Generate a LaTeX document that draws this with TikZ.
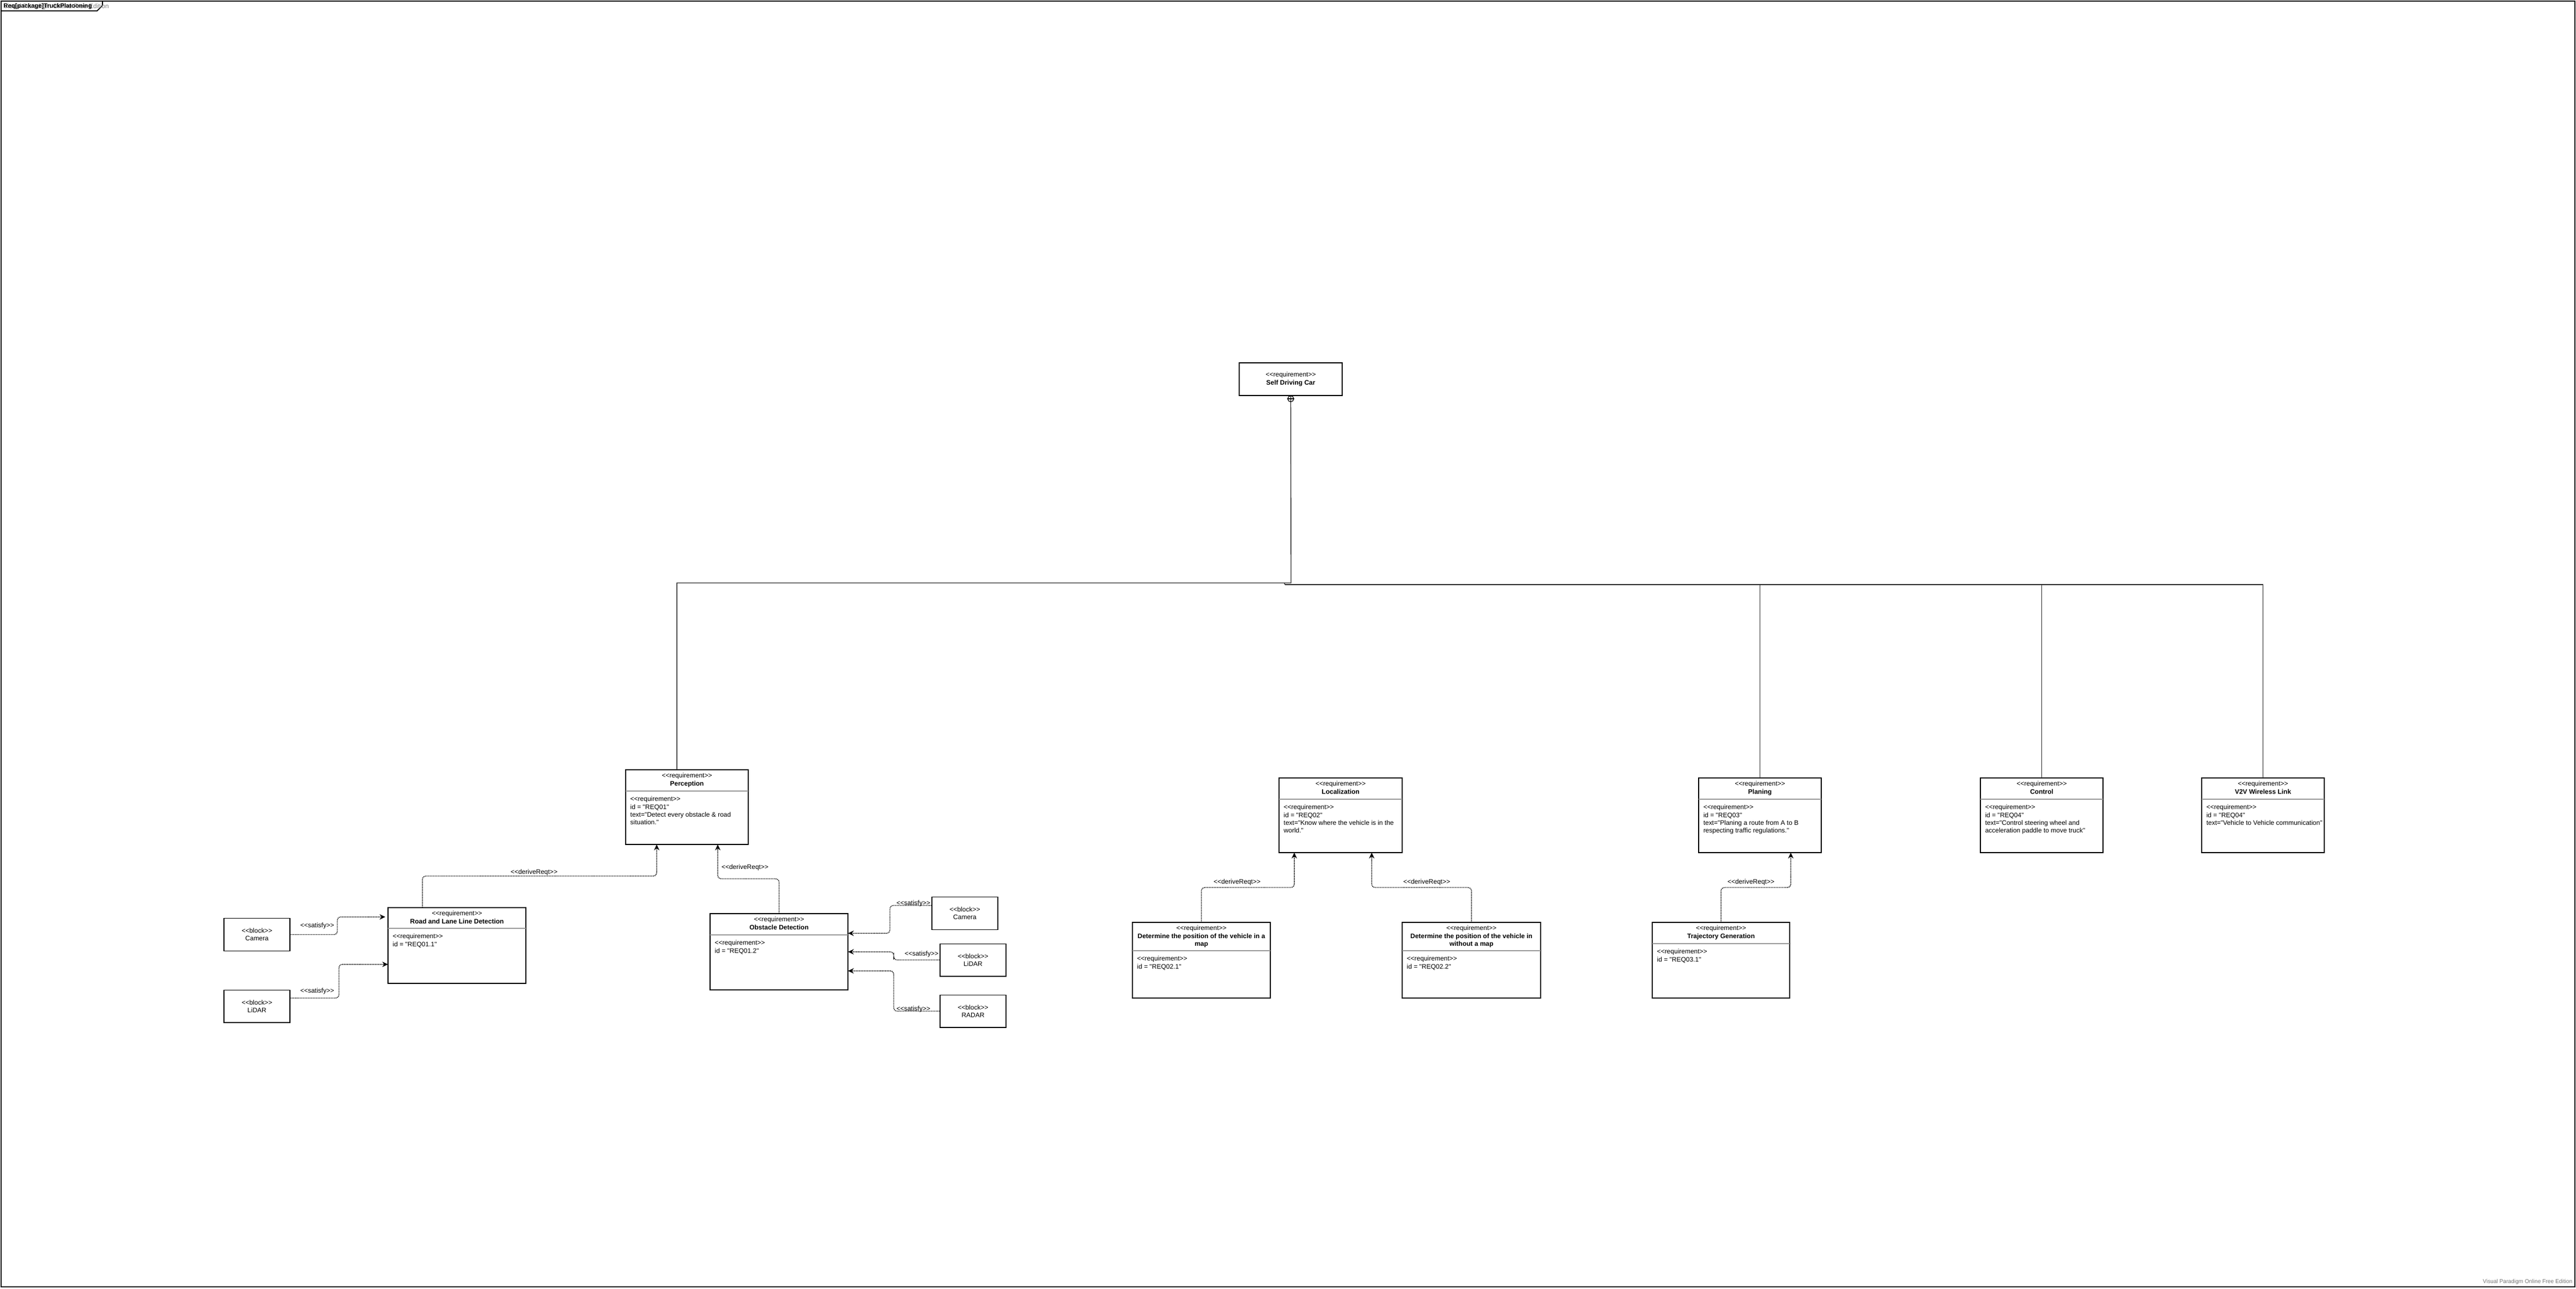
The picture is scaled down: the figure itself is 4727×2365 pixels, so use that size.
\documentclass[tikz,border=0pt]{standalone}
\usepackage{fontspec}
\setmainfont{Liberation Sans}[Ligatures=TeXOff]
\usetikzlibrary{arrows.meta}
\newcommand{\reqfont}{\fontsize{3.41}{4.05}\selectfont}
\tikzset{>={Stealth[length=3pt,width=2.8pt]},
  req/.style={draw, line width=0.4pt, minimum width=2.25cm, minimum height=1.37cm, inner sep=0pt, outer sep=0pt, anchor=north west},
  reqhead/.style={anchor=north, align=center, inner xsep=0pt, inner ysep=0.055cm, font=\reqfont},
  reqbody/.style={anchor=north west, align=left, inner xsep=0.08cm, inner ysep=0.095cm, font=\reqfont},
  divline/.style={draw=black!40, line width=0.35pt},
  blk/.style={draw, line width=0.4pt, minimum width=1.21cm, minimum height=0.595cm, inner sep=0pt, outer sep=0pt, align=center, font=\reqfont},
  rel/.style={->, line width=0.4pt, dash pattern=on 0.5pt off 0.35pt, rounded corners=1.8pt},
  lbl/.style={font=\reqfont, inner sep=0pt},
  tree/.style={line width=0.4pt, black!85}
}
\begin{document}
\begin{tikzpicture}[x=0.01cm, y=-0.01cm]
\useasboundingbox (0,0) rectangle (4727,2365);
% frame and tab
\draw[line width=0.7pt] (2,2) rectangle (4725,2362);
\draw[line width=0.5pt] (2,20) -- (178,20) -- (188,10) -- (188,2);
\node[anchor=west, inner sep=0pt, text=black!50, font=\fontsize{3.41}{4}\selectfont] (tabwm) at (6,12) {Visual Paradigm Online Free Edition};
\node[anchor=west, inner sep=0pt, font=\fontsize{3.2}{4}\selectfont\bfseries] (tabname) at (6,12) {Req[package]TruckPlatooning};
\node[anchor=base east, inner sep=0pt, text=black!55, font=\fontsize{2.9}{3.4}\selectfont] (wm) at (4721,2355) {Visual Paradigm Online Free Edition};

% root requirement
\node[req, minimum width=1.89cm, minimum height=0.6cm, align=center, font=\reqfont] (sdc) at (2274,666) {<<requirement>>\\\textbf{Self Driving Car}};
\node[draw, circle, minimum size=0.11cm, inner sep=0pt, line width=0.35pt] (own) at (2368.5,732) {};
\draw[line width=0.35pt] (own.north) -- (own.south) (own.west) -- (own.east);

% top level requirements
\node[req] (perc) at (1148,1413) {};
\node[reqhead] (percH) at (perc.north) {<<requirement>>\\\textbf{Perception}};
\draw[divline] ([yshift=-0.39cm]perc.north west) -- ([yshift=-0.39cm]perc.north east);
\node[reqbody] (percB) at ([yshift=-0.39cm]perc.north west) {<<requirement>>\\id = "REQ01"\\text="Detect every obstacle \& road\\situation."};

\node[req, minimum width=2.26cm] (loc) at (2347,1428) {};
\node[reqhead] (locH) at (loc.north) {<<requirement>>\\\textbf{Localization}};
\draw[divline] ([yshift=-0.39cm]loc.north west) -- ([yshift=-0.39cm]loc.north east);
\node[reqbody] (locB) at ([yshift=-0.39cm]loc.north west) {<<requirement>>\\id = "REQ02"\\text="Know where the vehicle is in the\\world."};

\node[req] (plan) at (3117,1428) {};
\node[reqhead] (planH) at (plan.north) {<<requirement>>\\\textbf{Planing}};
\draw[divline] ([yshift=-0.39cm]plan.north west) -- ([yshift=-0.39cm]plan.north east);
\node[reqbody] (planB) at ([yshift=-0.39cm]plan.north west) {<<requirement>>\\id = "REQ03"\\text="Planing a route from A to B\\respecting traffic regulations."};

\node[req] (ctrl) at (3634,1428) {};
\node[reqhead] (ctrlH) at (ctrl.north) {<<requirement>>\\\textbf{Control}};
\draw[divline] ([yshift=-0.39cm]ctrl.north west) -- ([yshift=-0.39cm]ctrl.north east);
\node[reqbody] (ctrlB) at ([yshift=-0.39cm]ctrl.north west) {<<requirement>>\\id = "REQ04"\\text="Control steering wheel and\\acceleration paddle to move truck"};

\node[req] (v2v) at (4040,1428) {};
\node[reqhead] (v2vH) at (v2v.north) {<<requirement>>\\\textbf{V2V Wireless Link}};
\draw[divline] ([yshift=-0.39cm]v2v.north west) -- ([yshift=-0.39cm]v2v.north east);
\node[reqbody] (v2vB) at ([yshift=-0.39cm]v2v.north west) {<<requirement>>\\id = "REQ04"\\text="Vehicle to Vehicle communication"};

% derived requirements
\node[req, minimum width=2.53cm, minimum height=1.39cm] (road) at (712,1666) {};
\node[reqhead] (roadH) at (road.north) {<<requirement>>\\\textbf{Road and Lane Line Detection}};
\draw[divline] ([yshift=-0.38cm]road.north west) -- ([yshift=-0.38cm]road.north east);
\node[reqbody] (roadB) at ([yshift=-0.38cm]road.north west) {<<requirement>>\\id = "REQ01.1"};

\node[req, minimum width=2.53cm, minimum height=1.4cm] (obst) at (1303,1677) {};
\node[reqhead] (obstH) at (obst.north) {<<requirement>>\\\textbf{Obstacle Detection}};
\draw[divline] ([yshift=-0.39cm]obst.north west) -- ([yshift=-0.39cm]obst.north east);
\node[reqbody] (obstB) at ([yshift=-0.39cm]obst.north west) {<<requirement>>\\id = "REQ01.2"};

\node[req, minimum width=2.53cm, minimum height=1.39cm] (mapA) at (2078,1693) {};
\node[reqhead] (mapAH) at (mapA.north) {<<requirement>>\\\textbf{Determine the position of the vehicle in a}\\\textbf{map}};
\draw[divline] ([yshift=-0.52cm]mapA.north west) -- ([yshift=-0.52cm]mapA.north east);
\node[reqbody] (mapAB) at ([yshift=-0.52cm]mapA.north west) {<<requirement>>\\id = "REQ02.1"};

\node[req, minimum width=2.54cm, minimum height=1.39cm] (mapB) at (2573,1693) {};
\node[reqhead] (mapBH) at (mapB.north) {<<requirement>>\\\textbf{Determine the position of the vehicle in}\\\textbf{without a map}};
\draw[divline] ([yshift=-0.52cm]mapB.north west) -- ([yshift=-0.52cm]mapB.north east);
\node[reqbody] (mapBB) at ([yshift=-0.52cm]mapB.north west) {<<requirement>>\\id = "REQ02.2"};

\node[req, minimum width=2.52cm, minimum height=1.39cm] (traj) at (3032,1693) {};
\node[reqhead] (trajH) at (traj.north) {<<requirement>>\\\textbf{Trajectory Generation}};
\draw[divline] ([yshift=-0.39cm]traj.north west) -- ([yshift=-0.39cm]traj.north east);
\node[reqbody] (trajB) at ([yshift=-0.39cm]traj.north west) {<<requirement>>\\id = "REQ03.1"};

% blocks
\node[blk] (camA) at (471.5,1715.5) {<<block>>\\Camera};
\node[blk] (lidA) at (471.5,1847) {<<block>>\\LiDAR};
\node[blk] (camB) at (1770.5,1676.5) {<<block>>\\Camera};
\node[blk] (lidB) at (1785.5,1762) {<<block>>\\LiDAR};
\node[blk] (radar) at (1785.5,1856) {<<block>>\\RADAR};

% containment tree
\coordinate (hub) at (2369,1070);
\coordinate (hubR) at (2358,1073);
\draw[tree] (own.south) -- (hub) -| ([xshift=-0.185cm]perc.north);
\draw[tree, rounded corners=0.6pt] (2357,1070) |- (2362,1073);
\draw[tree] (hubR) -| (v2v.north);
\draw[tree, line width=0.3pt] (plan.north |- hubR) -- (plan.north);
\draw[tree, line width=0.3pt] (ctrl.north |- hubR) -- (ctrl.north);

% satisfy
\draw[rel, shorten >=1.4pt] (camA.east) -| (619,1700) |- ([yshift=0.525cm]road.west);
\draw[rel] ([yshift=0.15cm]lidA.east) -| (622,1800) |- ([yshift=-0.345cm]road.west);
\draw[rel] ([yshift=0.145cm]camB.west) -| (1633,1690) |- ([yshift=0.34cm]obst.east);
\draw[rel] (lidB.west) -| (1640,1755) |- (obst.east);
\draw[rel] (radar.west) -| (1640,1800) |- ([yshift=-0.35cm]obst.east);
\node[lbl] (satA) at (582,1699) {<<satisfy>>};
\node[lbl] (satB) at (582,1819) {<<satisfy>>};
\node[lbl] (satC) at (1676,1658) {<<satisfy>>};
\node[lbl] (satD) at (1691,1751) {<<satisfy>>};
\node[lbl] (satE) at (1676,1852) {<<satisfy>>};

% deriveReqt
\draw[rel] ([xshift=-0.635cm]road.north) |- (1000,1608) -| ([xshift=-0.555cm]perc.south);
\draw[rel] (obst.north) |- (1400,1613) -| ([xshift=0.565cm]perc.south);
\draw[rel] (mapA.north) |- (2300,1629) -| ([xshift=-0.85cm]loc.south);
\draw[rel] (mapB.north) |- (2600,1629) -| ([xshift=0.57cm]loc.south);
\draw[rel] (traj.north) |- (3200,1629) -| ([xshift=0.565cm]plan.south);
\node[lbl] (derA) at (980,1601) {<<deriveReqt>>};
\node[lbl] (derB) at (1367,1592) {<<deriveReqt>>};
\node[lbl] (derC) at (2270,1619) {<<deriveReqt>>};
\node[lbl] (derD) at (2618,1619) {<<deriveReqt>>};
\node[lbl] (derE) at (3213,1619) {<<deriveReqt>>};
\end{tikzpicture}
\end{document}
